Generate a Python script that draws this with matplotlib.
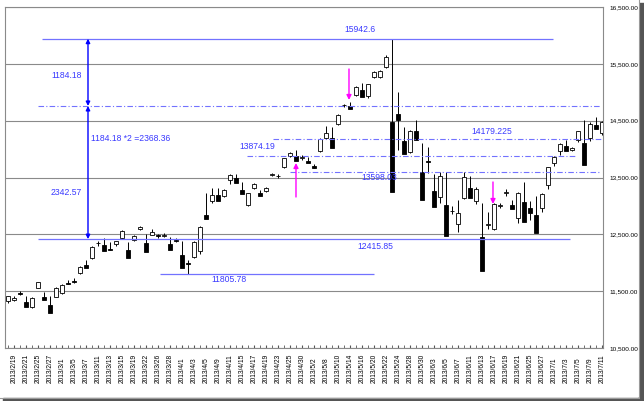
import matplotlib
matplotlib.use("Agg")
import matplotlib.pyplot as plt
from matplotlib.patches import Rectangle

plt.rcParams['font.family'] = ['Liberation Sans', 'DejaVu Sans']

# trading days, 2013/2/18 .. 2013/7/11
dates = ["2013/2/18", "2013/2/19", "2013/2/20", "2013/2/21", "2013/2/22", "2013/2/25", "2013/2/26",
         "2013/2/27", "2013/2/28", "2013/3/1", "2013/3/4", "2013/3/5", "2013/3/6", "2013/3/7",
         "2013/3/8", "2013/3/11", "2013/3/12", "2013/3/13", "2013/3/14", "2013/3/15", "2013/3/18",
         "2013/3/19", "2013/3/21", "2013/3/22", "2013/3/25", "2013/3/26", "2013/3/27", "2013/3/28",
         "2013/3/29", "2013/4/1", "2013/4/2", "2013/4/3", "2013/4/4", "2013/4/5", "2013/4/8",
         "2013/4/9", "2013/4/10", "2013/4/11", "2013/4/12", "2013/4/15", "2013/4/16", "2013/4/17",
         "2013/4/18", "2013/4/19", "2013/4/22", "2013/4/23", "2013/4/24", "2013/4/25", "2013/4/26",
         "2013/4/30", "2013/5/1", "2013/5/2", "2013/5/7", "2013/5/8", "2013/5/9", "2013/5/10",
         "2013/5/13", "2013/5/14", "2013/5/15", "2013/5/16", "2013/5/17", "2013/5/20", "2013/5/21",
         "2013/5/22", "2013/5/23", "2013/5/24", "2013/5/27", "2013/5/28", "2013/5/29", "2013/5/30",
         "2013/5/31", "2013/6/3", "2013/6/4", "2013/6/5", "2013/6/6", "2013/6/7", "2013/6/10",
         "2013/6/11", "2013/6/12", "2013/6/13", "2013/6/14", "2013/6/17", "2013/6/18", "2013/6/19",
         "2013/6/20", "2013/6/21", "2013/6/24", "2013/6/25", "2013/6/26", "2013/6/27", "2013/6/28",
         "2013/7/1", "2013/7/2", "2013/7/3", "2013/7/4", "2013/7/5", "2013/7/8", "2013/7/9",
         "2013/7/10", "2013/7/11"]

opens = [11330, 11350, 11480, 11400, 11230, 11560, 11460, 11400, 11400, 11470, 11680, 11710, 11820, 12020,
         12080, 12340, 12430, 12250, 12330, 12430, 12360, 12400, 12590, 12490, 12490, 12480, 12470, 12450,
         12410, 12370, 12030, 12107, 12200, 12900, 13080, 13290, 13180, 13450, 13560, 13340, 13020, 13320,
         13260, 13260, 13550, 13540, 13690, 13880, 13970, 13850, 13840, 13720, 13960, 14190, 14360, 14440,
         14770, 14816, 14950, 15160, 14930, 15270, 15270, 15440, 15731, 14720, 14365, 13940, 14500, 14070,
         13780, 13540, 13150, 13560, 12910, 12690, 13134, 13500, 13080, 13030, 12670, 12590, 13000, 13230,
         13090, 12790, 13400, 13070, 13150, 12960, 13370, 13750, 13960, 14140, 13990, 14160, 14500, 14200,
         14470, 14280]
highs = [11420, 11410, 11500, 11420, 11400, 11670, 11480, 11410, 11570, 11620, 11700, 11730, 11940, 12040,
         12290, 12380, 12440, 12370, 12390, 12580, 12370, 12480, 12650, 12500, 12600, 12510, 12520, 12460,
         12430, 12380, 12050, 12380, 12650, 13225, 13310, 13320, 13300, 13560, 13570, 13420, 13230, 13400,
         13280, 13330, 13580, 13560, 13850, 13940, 13990, 13900, 13860, 13730, 14190, 14400, 14380, 14620,
         14800, 14830, 15110, 15170, 15150, 15380, 15400, 15660, 15942.6, 15010, 14380, 14330, 14520, 14100,
         14030, 13560, 13600, 13600, 13000, 13100, 13600, 13520, 13340, 13050, 12900, 13050, 13060, 13300,
         13100, 13240, 13420, 13090, 13170, 13230, 13690, 13870, 14110, 14160, 14040, 14320, 14520, 14470,
         14560, 14490]
lows = [11300, 11320, 11440, 11280, 11200, 11550, 11380, 11230, 11390, 11450, 11620, 11650, 11800, 11950,
        12070, 12300, 12290, 12230, 12300, 12420, 12200, 12380, 12570, 12320, 12480, 12440, 12450, 12320,
        12370, 12110, 11805.78, 12080, 12150, 12800, 13050, 13160, 13150, 13390, 13470, 13260, 12990, 13300,
        13200, 13240, 13520, 13500, 13670, 13860, 13870, 13800, 13780, 13660, 13940, 14170, 14170, 14420,
        14740, 14740, 14930, 14930, 14900, 15250, 15250, 15420, 14450, 13984, 14010, 13930, 14230, 13560,
        13580, 13050, 13050, 12870, 12850, 12546, 13120, 13280, 13040, 12415.85, 12600, 12570, 12960, 13180,
        12980, 12700, 13040, 12750, 12800, 12900, 13300, 13700, 13900, 14040, 13960, 14120, 14100, 14150,
        14380, 14250]
closes = [11408, 11372, 11468, 11309, 11386, 11662, 11399, 11254, 11559, 11606, 11652, 11683, 11932, 11968,
          12284, 12349, 12315, 12240, 12381, 12561, 12221, 12468, 12636, 12339, 12546, 12472, 12494, 12336,
          12398, 12135, 12003, 12362, 12634, 12834, 13193, 13192, 13288, 13549, 13485, 13276, 13221, 13383,
          13220, 13316, 13568, 13530, 13843, 13926, 13884, 13861, 13799, 13694, 14180, 14286, 14191, 14608,
          14782, 14758, 15096, 15037, 15138, 15361, 15381, 15627, 14484, 14612, 14143, 14312, 14326, 13589,
          13775, 13262, 13534, 13015, 12904, 12877, 13514, 13318, 13289, 12445, 12686, 13033, 13007, 13245,
          13015, 13230, 13062, 12969, 12834, 13213, 13677, 13852, 14098, 14055, 14019, 14310, 14109, 14440,
          14416, 14470]

# analysis levels
high_level = 15942.6
mid_level = 14758.42
low_level = 12415.85
april_low = 11805.78
level_a = 13874.19
level_b = 14179.225
level_c = 13598.03

fig = plt.figure(figsize=(6.44, 4.01), dpi=100)
W, H = 644.0, 401.0
# outer frame: only right and bottom edges show, with a shadow
fig.add_artist(Rectangle((3 / W, 0), 641 / W, 3 / H, transform=fig.transFigure, color='#555555', zorder=-3))
fig.add_artist(Rectangle((639 / W, 0), 5 / W, 398 / H, transform=fig.transFigure, color='#555555', zorder=-3))
fig.add_artist(Rectangle((0, 4 / H), 639 / W, 397 / H, transform=fig.transFigure,
                         facecolor='white', edgecolor='none', zorder=-2))
fig.add_artist(plt.Line2D([0, 638.5 / W, 638.5 / W], [3.5 / H, 3.5 / H, 1], transform=fig.transFigure,
                          color='#9a9a9a', linewidth=0.8, zorder=-1))

ax = fig.add_axes([5 / W, 53 / H, 598 / W, 341 / H])

xs = list(range(-1, len(dates) - 1))

# candles
ax.vlines(xs, lows, highs, color='black', linewidth=0.7, zorder=2)
for x, o, c in zip(xs, opens, closes):
    fc = 'white' if c >= o else 'black'
    h = c - o if abs(c - o) > 8 else 8
    ax.bar(x, h, bottom=min(o, c), width=0.75, facecolor=fc, edgecolor='black',
           linewidth=0.6, zorder=3)

line_col = '#7272ff'
text_col = '#3a3aff'

def idx(px):
    return (px - 14) / 6.0

# horizontal levels
dd = (0, (5, 2, 1, 2))
ax.hlines(high_level, idx(42), idx(553), color=line_col, linewidth=0.9, zorder=4)
ax.hlines(low_level, idx(38), idx(570), color=line_col, linewidth=0.9, zorder=4)
ax.hlines(april_low, idx(160), idx(374), color=line_col, linewidth=0.9, zorder=4)
ax.hlines(mid_level, idx(38), idx(600), color=line_col, linewidth=0.8, linestyles=dd, zorder=4)
ax.hlines(level_a, idx(247), idx(575), color=line_col, linewidth=0.8, linestyles=dd, zorder=4)
ax.hlines(level_b, idx(273), idx(602), color=line_col, linewidth=0.8, linestyles=dd, zorder=4)
ax.hlines(level_c, idx(290), idx(600), color=line_col, linewidth=0.8, linestyles=dd, zorder=4)

fs = 6.2
ax.text(idx(360), 16100, "15942.6", color=text_col, fontsize=fs, ha='center', va='center')
ax.text(idx(375), 12294, "12415.85", color=text_col, fontsize=fs, ha='center', va='center')
ax.text(idx(229), 11708, "11805.78", color=text_col, fontsize=fs, ha='center', va='center')
ax.text(idx(257), 14042, "13874.19", color=text_col, fontsize=fs, ha='center', va='center')
ax.text(idx(492), 14318, "14179.225", color=text_col, fontsize=fs, ha='center', va='center')
ax.text(idx(379), 13497, "13598.03", color=text_col, fontsize=fs, ha='center', va='center')
ax.text(idx(82), 15286, "1184.18", color=text_col, fontsize=fs, ha='right', va='center')
ax.text(idx(91), 14195, "1184.18 *2 =2368.36", color=text_col, fontsize=fs, ha='left', va='center')
ax.text(idx(82), 13240, "2342.57", color=text_col, fontsize=fs, ha='right', va='center')

# blue measuring arrows
arr = dict(arrowstyle='<|-|>', color='#0000ff', lw=1.0, mutation_scale=6, shrinkA=0, shrinkB=0)
ax.annotate("", xy=(idx(88), high_level), xytext=(idx(88), mid_level), arrowprops=arr, zorder=5)
ax.annotate("", xy=(idx(88), mid_level), xytext=(idx(88), low_level), arrowprops=arr, zorder=5)

# magenta markers
mag = dict(arrowstyle='-|>', color='#ff00ff', lw=1.0, mutation_scale=7, shrinkA=0, shrinkB=0)
ax.annotate("", xy=(idx(296), 13755), xytext=(idx(296), 13157), arrowprops=mag, zorder=5)
ax.annotate("", xy=(idx(349), 14864), xytext=(idx(349), 15409), arrowprops=mag, zorder=5)
ax.annotate("", xy=(idx(493), 13034), xytext=(idx(493), 13421), arrowprops=mag, zorder=5)

# axes
ax.set_xlim(-1.5, 98.17)
ax.set_ylim(10500, 16500)
yt = list(range(10500, 16501, 1000))
ax.yaxis.tick_right()
ax.set_yticks(yt, labels=[f"{v:,.2f}" for v in yt], fontsize=4.6)
ax.tick_params(axis='y', length=0, pad=4.5)
ax.grid(axis='y', color='#8a8a8a', linewidth=0.8)
ax.set_axisbelow(True)

ax.set_xticks(xs[1::2], labels=dates[1::2], rotation=90, rotation_mode='anchor',
              ha='left', va='center', fontsize=4.8)
ax.set_xticks(xs, minor=True)
ax.tick_params(axis='x', which='both', direction='in', length=2, color='#555555', pad=25.5)
for s in ax.spines.values():
    s.set_color('#8a8a8a')
    s.set_linewidth(0.8)

fig.savefig("out.png", dpi=100)
